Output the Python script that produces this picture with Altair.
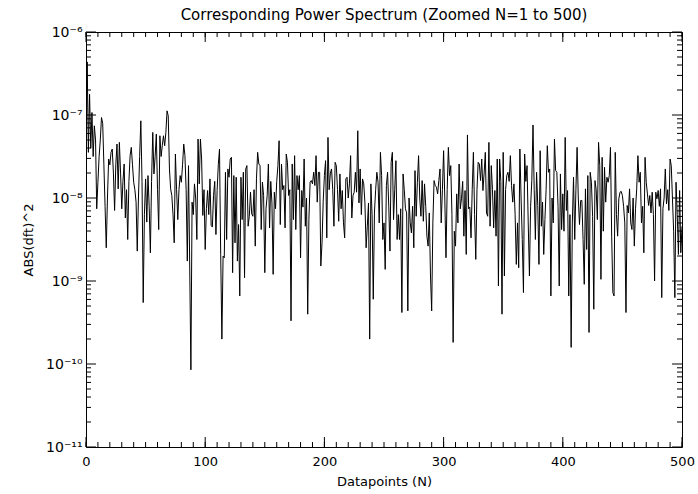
import altair as alt
import pandas as pd

# log10 of |dft|^2, N = 0..500
seg_000_050 = [
    -7.6, -6.36, -7.45, -6.75, -7.4, -6.97, -7.5, -7.13, -7.3, -8.13,
    -7.81, -7.5, -7.3, -7.03, -7.1, -7.6, -8.1, -8.60, -8.0, -7.53,
    -7.6, -7.45, -7.41, -7.7, -8.15, -7.6, -7.35, -7.89, -7.33, -7.7,
    -8.13, -7.8, -7.59, -8.24, -7.9, -8.50, -7.8, -7.49, -7.39, -7.6,
    -7.81, -7.9, -8.05, -8.64, -8.0, -7.5, -7.07, -7.8, -9.26, -8.2,
    -7.77,
]
seg_051_100 = [
    -8.29, -7.73, -8.1, -8.66, -7.8, -7.21, -7.71, -7.5, -7.23, -7.9,
    -8.38, -7.25, -7.5, -7.37, -7.25, -7.37, -7.21, -6.95, -7.01, -7.65,
    -7.89, -7.97, -8.2, -8.54, -7.47, -7.9, -8.26, -7.9, -7.73, -7.81,
    -7.6, -7.35, -7.49, -7.9, -8.76, -7.61, -8.82, -10.07, -8.05, -8.2,
    -7.83, -8.0, -8.5, -7.29, -7.83, -7.29, -7.53, -8.21, -7.9, -8.62,
]
seg_101_150 = [
    -8.13, -7.91, -8.2, -7.77, -8.33, -8.35, -7.97, -7.8, -8.44, -7.91,
    -7.6, -7.41, -8.68, -9.70, -8.70, -8.72, -7.69, -8.5, -7.65, -7.75,
    -7.53, -7.51, -8.9, -7.73, -8.54, -7.75, -8.76, -8.32, -9.18, -7.75,
    -8.26, -7.69, -8.96, -7.65, -7.61, -8.34, -8.22, -7.93, -8.19, -8.22,
    -7.9, -8.58, -7.77, -7.45, -7.59, -7.61, -8.38, -7.81, -7.97, -8.90,
]
seg_151_200 = [
    -8.13, -7.97, -7.59, -8.36, -7.8, -8.06, -8.92, -7.93, -8.13, -7.8,
    -7.61, -7.31, -8.32, -7.59, -7.9, -7.85, -8.36, -7.47, -7.57, -7.97,
    -7.9, -9.48, -7.59, -8.26, -7.49, -8.38, -7.73, -7.9, -7.73, -8.72,
    -7.91, -8.11, -7.53, -8.34, -8.0, -9.40, -8.26, -7.81, -7.79, -7.83,
    -7.69, -7.85, -7.49, -8.05, -7.69, -7.69, -8.82, -8.54, -8.04, -7.73,
]
seg_201_250 = [
    -7.55, -8.48, -7.27, -7.9, -7.7, -7.65, -7.9, -8.34, -7.57, -7.61,
    -7.9, -8.28, -7.71, -8.13, -7.91, -8.3, -8.48, -7.77, -7.75, -8.0,
    -7.83, -7.49, -8.24, -7.97, -7.93, -7.69, -7.93, -7.19, -8.06, -7.65,
    -8.2, -7.77, -7.83, -8.06, -8.6, -8.34, -8.06, -9.70, -7.83, -8.2,
    -9.22, -8.17, -7.9, -7.69, -7.81, -8.3, -7.45, -7.73, -8.5, -8.3,
]
seg_251_300 = [
    -8.86, -7.85, -7.69, -8.1, -8.64, -7.57, -7.45, -8.26, -7.9, -7.55,
    -8.5, -8.2, -8.5, -8.13, -9.38, -7.71, -7.9, -8.13, -8.18, -9.36,
    -8.0, -8.3, -8.42, -8.1, -8.6, -7.67, -8.22, -7.81, -7.49, -8.0,
    -8.22, -7.79, -8.28, -7.83, -8.1, -8.46, -8.58, -8.18, -8.94, -9.36,
    -8.3, -7.79, -7.85, -7.87, -7.95, -7.79, -7.65, -8.3, -7.9, -7.43,
]
seg_301_350 = [
    -8.0, -8.72, -7.9, -7.39, -7.73, -7.61, -8.2, -9.74, -8.4, -8.58,
    -7.95, -8.3, -7.59, -8.13, -8.01, -7.8, -8.46, -7.91, -8.68, -7.24,
    -8.13, -8.11, -8.48, -7.9, -7.45, -8.2, -8.74, -7.9, -7.57, -7.59,
    -7.79, -7.53, -7.91, -7.7, -7.45, -8.18, -8.22, -7.33, -8.34, -7.61,
    -7.9, -8.36, -7.91, -8.46, -7.53, -9.06, -7.53, -7.8, -9.40, -7.45,
]
seg_351_400 = [
    -8.94, -7.9, -7.73, -7.69, -7.8, -7.49, -7.85, -8.05, -7.83, -8.2,
    -8.8, -8.3, -8.84, -7.41, -8.0, -8.5, -9.14, -7.47, -7.8, -7.61,
    -8.3, -8.94, -8.1, -7.79, -7.12, -7.9, -8.5, -7.69, -8.09, -8.8,
    -7.43, -8.34, -8.05, -8.68, -8.26, -7.9, -7.37, -7.69, -7.65, -9.18,
    -8.0, -8.3, -7.29, -7.67, -7.69, -8.1, -9.06, -7.71, -8.38, -7.95,
]
seg_401_450 = [
    -8.4, -7.27, -8.15, -7.91, -9.18, -8.2, -9.80, -8.3, -7.75, -8.5,
    -7.9, -7.39, -8.0, -8.32, -8.03, -8.03, -8.5, -9.04, -7.89, -8.62,
    -7.73, -9.62, -7.69, -7.81, -8.22, -9.34, -7.79, -7.9, -8.26, -7.33,
    -7.61, -8.98, -7.51, -8.4, -7.63, -8.05, -7.75, -7.81, -7.73, -7.39,
    -8.46, -9.14, -9.18, -7.45, -8.2, -8.46, -8.01, -7.93, -7.92, -7.97,
]
seg_451_500 = [
    -8.1, -8.3, -9.38, -8.09, -8.18, -7.89, -8.3, -8.38, -8.0, -8.58,
    -8.13, -7.89, -7.49, -7.81, -7.69, -8.3, -8.1, -8.66, -7.51, -7.81,
    -7.95, -8.09, -7.97, -8.18, -7.93, -8.2, -9.0, -7.93, -8.01, -7.91,
    -8.1, -7.89, -9.2, -8.13, -8.0, -7.65, -8.07, -7.9, -8.15, -7.53,
    -7.61, -8.01, -8.4, -9.2, -7.81, -8.2, -8.68, -7.91, -8.66, -8.34,
]

log_power = (seg_000_050 + seg_051_100 + seg_101_150 + seg_151_200 + seg_201_250
             + seg_251_300 + seg_301_350 + seg_351_400 + seg_401_450 + seg_451_500)
datapoints = list(range(len(log_power)))
power = [10.0 ** e for e in log_power]

x_major_ticks = [0, 100, 200, 300, 400, 500]
x_minor_ticks = list(range(0, 501, 10))
y_major_ticks = [1e-11, 1e-10, 1e-9, 1e-8, 1e-7, 1e-6]
y_minor_ticks = [m * d for d in [1e-11, 1e-10, 1e-9, 1e-8, 1e-7] for m in range(2, 10)]

W, H = 596, 415
FONT = "DejaVu Sans"

df = pd.DataFrame({"N": datapoints, "power": power})
xs = alt.Scale(domain=[0, 500], nice=False, zero=False)
ys = alt.Scale(type="log", domain=[1e-11, 1e-6], nice=False)

common = dict(
    ticks=False, grid=False, domain=False,
    labelFont=FONT, labelColor="black",
    titleFont=FONT, titleFontSize=13, titleFontWeight="normal", titleColor="black",
)
x_axis = alt.Axis(
    title="Datapoints (N)", values=x_major_ticks, labelPadding=8, titlePadding=7,
    format="d", labelFlush=False, labelFontSize=13, **common)
y_axis = alt.Axis(
    title="ABS(dft)^2", values=y_major_ticks, labelPadding=4, titlePadding=10,
    labelFontSize=14, labelFlush=False,
    labelExpr="'10' + ['⁻¹¹','⁻¹⁰','⁻⁹','⁻⁸','⁻⁷','⁻⁶'][round(log(datum.value)/LN10) + 11]",
    **common)

line = alt.Chart(df).mark_line(color="black", strokeWidth=1, clip=True).encode(
    x=alt.X("N:Q", scale=xs, axis=x_axis),
    y=alt.Y("power:Q", scale=ys, axis=y_axis),
)

def xticks(vals, length):
    d = pd.DataFrame({"N": vals})
    base = alt.Chart(d).mark_rule(color="black", strokeWidth=1)
    bot = base.encode(x=alt.X("N:Q", scale=xs, axis=x_axis), y=alt.value(H), y2=alt.value(H - length))
    top = base.encode(x=alt.X("N:Q", scale=xs, axis=x_axis), y=alt.value(0), y2=alt.value(length))
    return [bot, top]

def yticks(vals, length):
    d = pd.DataFrame({"power": vals})
    base = alt.Chart(d).mark_rule(color="black", strokeWidth=1)
    left = base.encode(y=alt.Y("power:Q", scale=ys, axis=y_axis), x=alt.value(0), x2=alt.value(length))
    right = base.encode(y=alt.Y("power:Q", scale=ys, axis=y_axis), x=alt.value(W), x2=alt.value(W - length))
    return [left, right]

layers = [line] + xticks(x_minor_ticks, 5) + xticks(x_major_ticks, 10) \
    + yticks(y_minor_ticks, 5) + yticks(y_major_ticks, 10)

chart = alt.layer(*layers).properties(
    width=W, height=H,
    background="white",
    autosize=alt.AutoSizeParams(type="none"),
    padding={"left": 86, "top": 32, "right": 16, "bottom": 47},
    title=alt.TitleParams(
        text="Corresponding Power Spectrum (Zoomed N=1 to 500)",
        font=FONT, fontSize=15, fontWeight="normal", color="black",
        anchor="middle", offset=2),
).configure_view(stroke="black", strokeWidth=1)

chart.save("out.html", embed_options={"renderer": "svg", "actions": False})
